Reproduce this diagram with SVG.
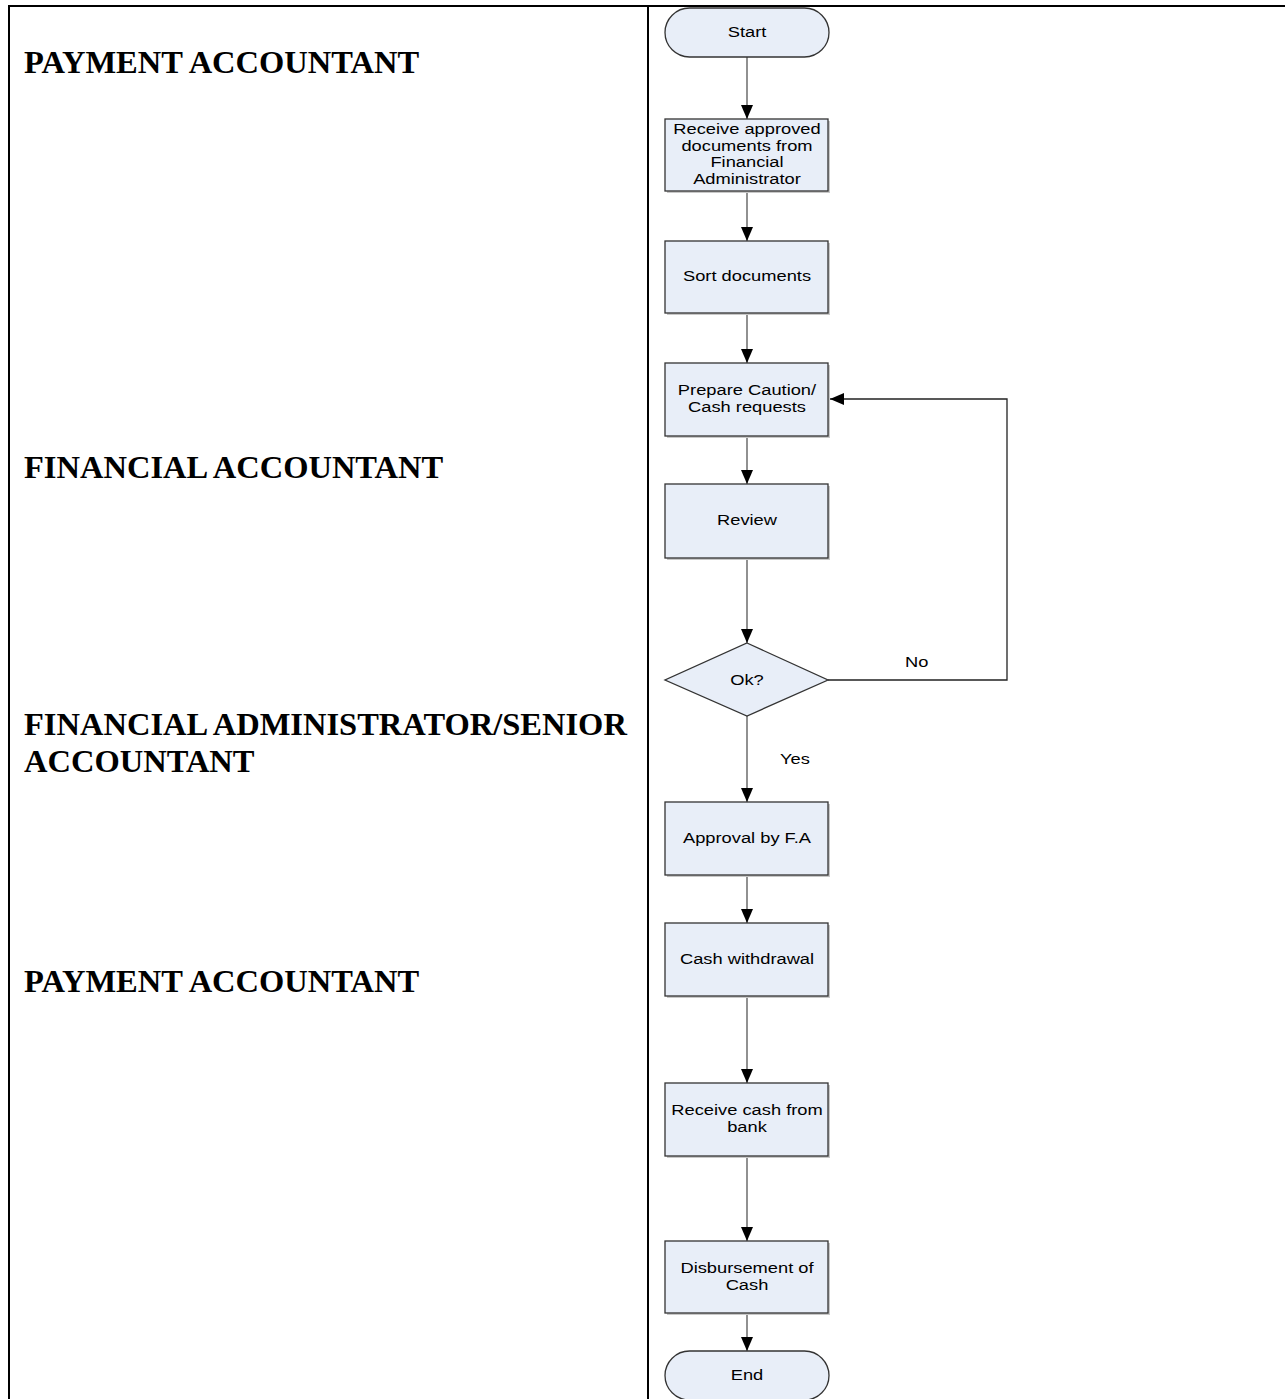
<svg xmlns="http://www.w3.org/2000/svg" width="1285" height="1399" viewBox="0 0 1285 1399">
<defs>
<style>
.lane{font-family:"Liberation Sans",Arial,sans-serif;font-family:"Liberation Serif","Times New Roman",serif;font-weight:bold;font-size:32.5px;fill:#000}
.box{fill:#E8EEF8;stroke:#333;stroke-width:1.3}
.sh{fill:#C8C8C8}
.t{font-family:"Liberation Sans",Arial,sans-serif;font-size:15px;fill:#000;text-anchor:middle}
.c{fill:none;stroke:#555;stroke-width:1.3}
.c2{fill:none;stroke:#222;stroke-width:1.3}
.lbl{font-family:"Liberation Sans",Arial,sans-serif;font-size:15px;fill:#000}
</style>
<marker id="ah" viewBox="0 0 14 12" refX="14" refY="6" markerWidth="14" markerHeight="12" markerUnits="userSpaceOnUse" orient="auto">
<path d="M0,0 L14,6 L0,12 Z" fill="#000"/>
</marker>
</defs>
<rect width="1285" height="1399" fill="#fff"/>
<g id="table">
<line x1="8" y1="6" x2="1285" y2="6" stroke="#000" stroke-width="2"/>
<line x1="9" y1="5" x2="9" y2="1399" stroke="#000" stroke-width="2"/>
<line x1="648" y1="5" x2="648" y2="1399" stroke="#000" stroke-width="2"/>
</g>
<g id="lanes">
<text class="lane" x="24" y="73">PAYMENT ACCOUNTANT</text>
<text class="lane" x="24" y="478">FINANCIAL ACCOUNTANT</text>
<text class="lane" x="24" y="735">FINANCIAL ADMINISTRATOR/SENIOR</text>
<text class="lane" x="24" y="772">ACCOUNTANT</text>
<text class="lane" x="24" y="992">PAYMENT ACCOUNTANT</text>
</g>
<g id="connectors">
<line class="c" x1="747" y1="57" x2="747" y2="119" marker-end="url(#ah)"/>
<line class="c" x1="747" y1="191" x2="747" y2="241" marker-end="url(#ah)"/>
<line class="c" x1="747" y1="313" x2="747" y2="363" marker-end="url(#ah)"/>
<line class="c" x1="747" y1="436" x2="747" y2="484" marker-end="url(#ah)"/>
<line class="c" x1="747" y1="558" x2="747" y2="643" marker-end="url(#ah)"/>
<polyline class="c2" points="828,680 1007,680 1007,399 830,399" marker-end="url(#ah)"/>
<line class="c" x1="747" y1="716" x2="747" y2="802" marker-end="url(#ah)"/>
<line class="c" x1="747" y1="875" x2="747" y2="923" marker-end="url(#ah)"/>
<line class="c" x1="747" y1="996" x2="747" y2="1083" marker-end="url(#ah)"/>
<line class="c" x1="747" y1="1156" x2="747" y2="1241" marker-end="url(#ah)"/>
<line class="c" x1="747" y1="1313" x2="747" y2="1351" marker-end="url(#ah)"/>
<text class="lbl" transform="matrix(1.22 0 0 1 905 667)">No</text>
<text class="lbl" transform="matrix(1.22 0 0 1 780 764)">Yes</text>
</g>
<g id="start">
<rect class="box" x="665" y="8" width="164" height="49" rx="24.5"/>
<text class="t" transform="matrix(1.22 0 0 1 747 37)">Start</text>
</g>
<g id="receive-docs">
<rect class="sh" x="667" y="121" width="163" height="72"/>
<rect class="box" x="665" y="119" width="163" height="72"/>
<text class="t" transform="matrix(1.22 0 0 1 747 134)">Receive approved</text>
<text class="t" transform="matrix(1.22 0 0 1 747 151)">documents from</text>
<text class="t" transform="matrix(1.22 0 0 1 747 167)">Financial</text>
<text class="t" transform="matrix(1.22 0 0 1 747 184)">Administrator</text>
</g>
<g id="sort">
<rect class="sh" x="667" y="243" width="163" height="72"/>
<rect class="box" x="665" y="241" width="163" height="72"/>
<text class="t" transform="matrix(1.22 0 0 1 747 281)">Sort documents</text>
</g>
<g id="prepare">
<rect class="sh" x="667" y="365" width="163" height="73"/>
<rect class="box" x="665" y="363" width="163" height="73"/>
<text class="t" transform="matrix(1.22 0 0 1 747 395)">Prepare Caution/</text>
<text class="t" transform="matrix(1.22 0 0 1 747 412)">Cash requests</text>
</g>
<g id="review">
<rect class="sh" x="667" y="486" width="163" height="74"/>
<rect class="box" x="665" y="484" width="163" height="74"/>
<text class="t" transform="matrix(1.22 0 0 1 747 525)">Review</text>
</g>
<g id="ok">
<polygon class="box" points="747,643 828,680 747,716 665,680"/>
<text class="t" transform="matrix(1.22 0 0 1 747 685)">Ok?</text>
</g>
<g id="approval">
<rect class="sh" x="667" y="804" width="163" height="73"/>
<rect class="box" x="665" y="802" width="163" height="73"/>
<text class="t" transform="matrix(1.22 0 0 1 747 843)">Approval by F.A</text>
</g>
<g id="withdrawal">
<rect class="sh" x="667" y="925" width="163" height="73"/>
<rect class="box" x="665" y="923" width="163" height="73"/>
<text class="t" transform="matrix(1.22 0 0 1 747 964)">Cash withdrawal</text>
</g>
<g id="receive-cash">
<rect class="sh" x="667" y="1085" width="163" height="73"/>
<rect class="box" x="665" y="1083" width="163" height="73"/>
<text class="t" transform="matrix(1.22 0 0 1 747 1115)">Receive cash from</text>
<text class="t" transform="matrix(1.22 0 0 1 747 1132)">bank</text>
</g>
<g id="disbursement">
<rect class="sh" x="667" y="1243" width="163" height="72"/>
<rect class="box" x="665" y="1241" width="163" height="72"/>
<text class="t" transform="matrix(1.22 0 0 1 747 1273)">Disbursement of</text>
<text class="t" transform="matrix(1.22 0 0 1 747 1290)">Cash</text>
</g>
<g id="end">
<rect class="box" x="665" y="1351" width="164" height="49" rx="24.5"/>
<text class="t" transform="matrix(1.22 0 0 1 747 1380)">End</text>
</g>
</svg>
